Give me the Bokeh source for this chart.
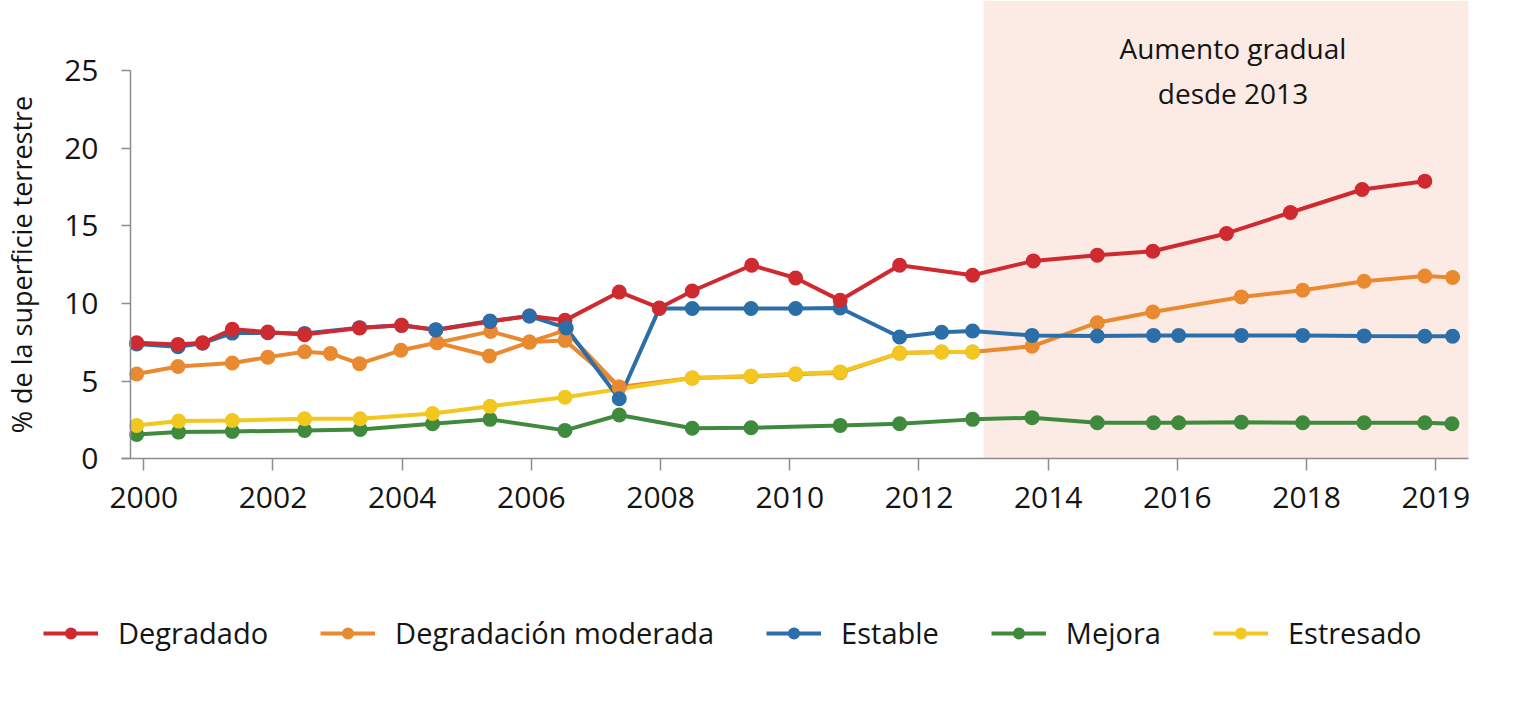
from bokeh.plotting import figure
from bokeh.models import Range1d, FixedTicker, BoxAnnotation, Legend, LegendItem
from bokeh.core.properties import value
from bokeh.embed import file_html
from bokeh.resources import INLINE

# ---------------- data ----------------
xtick_vals = [2000, 2002, 2004, 2006, 2008, 2010, 2012, 2014, 2016, 2018, 2020]
xtick_labels = ["2000", "2002", "2004", "2006", "2008", "2010", "2012", "2014", "2016", "2018", "2019"]
ytick_vals = [0, 5, 10, 15, 20, 25]

red_x = [1999.89, 2000.53, 2000.91, 2001.37, 2001.92, 2002.49, 2003.34, 2003.99, 2004.52, 2005.36,
         2005.97, 2006.52, 2007.36, 2007.98, 2008.49, 2009.41, 2010.09, 2010.78, 2011.70, 2012.83,
         2013.77, 2014.76, 2015.62, 2016.76, 2017.75, 2018.86, 2019.83]
red_y = [7.48, 7.37, 7.48, 8.34, 8.17, 8.0, 8.43, 8.6, 8.3, 8.85,
         9.2, 8.92, 10.75, 9.72, 10.81, 12.47, 11.65, 10.21, 12.47, 11.83,
         12.75, 13.12, 13.37, 14.52, 15.87, 17.35, 17.89]

orange_x = [1999.89, 2000.53, 2001.37, 2001.92, 2002.49, 2002.89, 2003.34, 2003.98, 2004.54, 2005.35,
            2005.97, 2006.52, 2007.36, 2008.49, 2009.40, 2010.09, 2010.78, 2011.70, 2012.35, 2012.83,
            2013.75, 2014.76, 2015.62, 2016.99, 2017.94, 2018.89, 2019.83, 2020.26]
orange_y = [5.46, 5.95, 6.17, 6.55, 6.9, 6.79, 6.13, 6.99, 7.48, 6.62,
            7.52, 7.63, 4.62, 5.2, 5.3, 5.45, 5.55, 6.81, 6.88, 6.88,
            7.25, 8.77, 9.46, 10.43, 10.86, 11.44, 11.78, 11.68]
# second (upper) orange path drawn in the source between 2004.5 and 2007.4
orange_alt_x = [2004.54, 2005.37, 2005.97, 2006.52, 2007.36]
orange_alt_y = [7.48, 8.21, 7.52, 8.28, 4.62]

blue_x = [1999.89, 2000.53, 2000.91, 2001.37, 2001.92, 2002.49, 2003.34, 2003.99, 2004.52, 2005.36,
          2005.97, 2006.54, 2007.36, 2007.98, 2008.49, 2009.40, 2010.09, 2010.78, 2011.70, 2012.35,
          2012.83, 2013.75, 2014.76, 2015.63, 2016.02, 2016.99, 2017.94, 2018.89, 2019.83, 2020.26]
blue_y = [7.4, 7.22, 7.45, 8.1, 8.12, 8.08, 8.45, 8.6, 8.32, 8.88,
          9.2, 8.43, 3.87, 9.68, 9.68, 9.68, 9.68, 9.72, 7.85, 8.15,
          8.23, 7.95, 7.91, 7.95, 7.95, 7.95, 7.95, 7.92, 7.9, 7.9]

green_x = [1999.89, 2000.54, 2001.37, 2002.49, 2003.35, 2004.47, 2005.36, 2006.52, 2007.36, 2008.49,
           2009.40, 2010.78, 2011.70, 2012.83, 2013.75, 2014.76, 2015.63, 2016.02, 2016.99, 2017.94,
           2018.89, 2019.83, 2020.25]
green_y = [1.57, 1.72, 1.76, 1.83, 1.89, 2.26, 2.54, 1.83, 2.82, 1.97,
           2.0, 2.15, 2.26, 2.54, 2.65, 2.32, 2.32, 2.32, 2.36, 2.32,
           2.32, 2.32, 2.26]

yellow_x = [1999.89, 2000.54, 2001.37, 2002.49, 2003.35, 2004.47, 2005.36, 2006.52, 2008.49, 2009.40,
            2010.09, 2010.78, 2011.70, 2012.35, 2012.83]
yellow_y = [2.15, 2.43, 2.47, 2.58, 2.58, 2.92, 3.39, 3.97, 5.2, 5.33,
            5.48, 5.6, 6.81, 6.88, 6.88]

shade_start = 2013
note_x = [2016.86, 2016.86]
note_y = [26.45, 23.55]
note_text = ["Aumento gradual", "desde 2013"]

y_title = "% de la superficie terrestre"
labels = ["Degradado", "Degradación moderada", "Estable", "Mejora", "Estresado"]

# ---------------- style / layout ----------------
C_RED = "#cf2a2f"
C_ORANGE = "#ea8a30"
C_BLUE = "#2c6ea8"
C_GREEN = "#3f8a3c"
C_YELLOW = "#f2c71f"
TXT = "#141414"
AXC = "#8c8c8c"
FONT = "Open Sans"
LW = 4
MS = 15

X_LO, X_HI = 1997.782, 2020.955     # whole canvas width is the frame
Y_LO, Y_HI = -14.93, 29.53          # room below the axis for the legend
X_AXIS_START, X_AXIS_END = 1999.655, 2020.506
Y_AXIS_AT = 1999.794

p = figure(width=1497, height=690, output_backend="svg", toolbar_location=None,
           x_range=Range1d(X_LO, X_HI), y_range=Range1d(Y_LO, Y_HI),
           min_border_left=0, min_border_right=0, min_border_top=0, min_border_bottom=0)
p.outline_line_color = None
p.xgrid.visible = False
p.ygrid.visible = False
p.background_fill_color = "white"
p.border_fill_color = "white"

p.add_layout(BoxAnnotation(left=shade_start, right=X_AXIS_END, bottom=0,
                           fill_color="#fcebe4", fill_alpha=1.0,
                           line_color=None, level="underlay"))

# lines
l_green = p.line(green_x, green_y, line_color=C_GREEN, line_width=LW)
l_orange_alt = p.line(orange_alt_x, orange_alt_y, line_color=C_ORANGE, line_width=LW)
l_orange = p.line(orange_x, orange_y, line_color=C_ORANGE, line_width=LW)
l_yellow = p.line(yellow_x, yellow_y, line_color=C_YELLOW, line_width=LW)
l_blue = p.line(blue_x, blue_y, line_color=C_BLUE, line_width=LW)
l_red = p.line(red_x, red_y, line_color=C_RED, line_width=LW)

# markers
m_green = p.scatter(green_x, green_y, size=MS, fill_color=C_GREEN, line_color=None)
p.scatter(orange_alt_x, orange_alt_y, size=MS, fill_color=C_ORANGE, line_color=None)
m_orange = p.scatter(orange_x, orange_y, size=MS, fill_color=C_ORANGE, line_color=None)
m_yellow = p.scatter(yellow_x, yellow_y, size=MS, fill_color=C_YELLOW, line_color=None)
bx_a = [x for x in blue_x if x < 2004.3 or x > 2007.7]
by_a = [y for x, y in zip(blue_x, blue_y) if x < 2004.3 or x > 2007.7]
bx_b = [x for x in blue_x if 2004.3 <= x <= 2007.7]
by_b = [y for x, y in zip(blue_x, blue_y) if 2004.3 <= x <= 2007.7]
m_blue = p.scatter(bx_a, by_a, size=MS, fill_color=C_BLUE, line_color=None)
m_red = p.scatter(red_x, red_y, size=MS, fill_color=C_RED, line_color=None)
p.scatter(bx_b, by_b, size=MS, fill_color=C_BLUE, line_color=None)

# note text
p.text(note_x, note_y, text=note_text, text_align="center", text_baseline="middle",
       text_font=value(FONT), text_font_size="28px", text_color=TXT)

# axes (drawn at fixed data positions inside the canvas)
xa = p.xaxis[0]
xa.fixed_location = 0
xa.bounds = (X_AXIS_START, X_AXIS_END)
xa.ticker = FixedTicker(ticks=xtick_vals)
xa.major_label_overrides = {v: s for v, s in zip(xtick_vals, xtick_labels)}
xa.minor_tick_line_color = None
xa.major_tick_in = 0
xa.major_tick_out = 12
xa.axis_line_color = AXC
xa.major_tick_line_color = AXC
xa.axis_line_width = 1.5
xa.major_tick_line_width = 1.5
xa.major_label_text_font = FONT
xa.major_label_text_font_size = "30px"
xa.major_label_text_color = TXT
xa.major_label_standoff = 16

ya = p.yaxis[0]
ya.fixed_location = Y_AXIS_AT
ya.bounds = (0, 25)
ya.ticker = FixedTicker(ticks=ytick_vals)
ya.minor_tick_line_color = None
ya.major_tick_in = 0
ya.major_tick_out = 9
ya.axis_line_color = AXC
ya.major_tick_line_color = AXC
ya.axis_line_width = 1.5
ya.major_tick_line_width = 1.5
ya.major_label_text_font = FONT
ya.major_label_text_font_size = "30px"
ya.major_label_text_color = TXT
ya.major_label_standoff = 23
ya.axis_label = y_title
ya.axis_label_text_font = FONT
ya.axis_label_text_font_size = "27px"
ya.axis_label_text_font_style = "normal"
ya.axis_label_text_color = TXT
ya.axis_label_standoff = 21

legend = Legend(items=[
    LegendItem(label=labels[0], renderers=[l_red, m_red]),
    LegendItem(label=labels[1], renderers=[l_orange, m_orange]),
    LegendItem(label=labels[2], renderers=[l_blue, m_blue]),
    LegendItem(label=labels[3], renderers=[l_green, m_green]),
    LegendItem(label=labels[4], renderers=[l_yellow, m_yellow]),
], orientation="horizontal", location=(43, 38))
legend.label_text_font = FONT
legend.label_text_font_size = "29px"
legend.label_text_color = TXT
legend.glyph_width = 55
legend.glyph_height = 30
legend.label_standoff = 20
legend.spacing = 52
legend.padding = 0
legend.margin = 0
legend.border_line_color = None
legend.background_fill_alpha = 0
p.add_layout(legend, "center")

open("out.html", "w").write(file_html(p, INLINE))
